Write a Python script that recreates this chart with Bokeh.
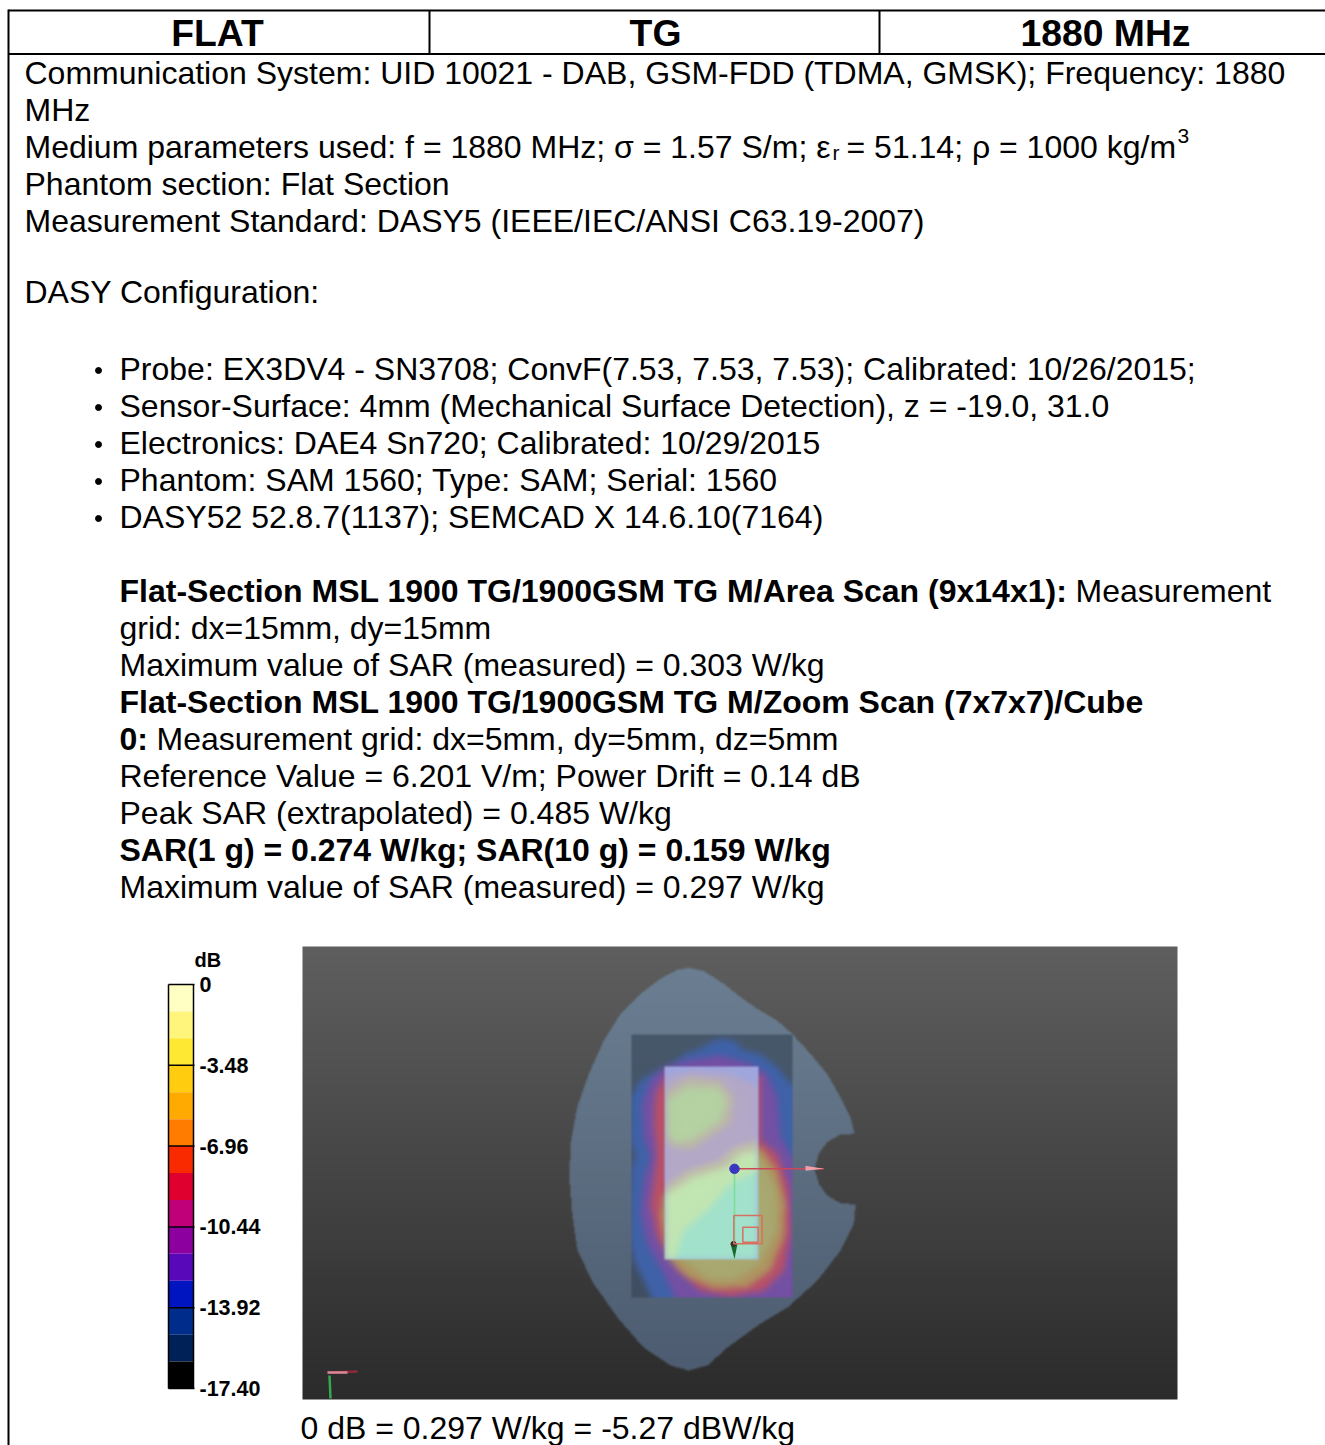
import numpy as np
from bokeh.plotting import figure
from bokeh.models import Range1d
from bokeh.core.properties import value
from bokeh.embed import file_html
from bokeh.resources import INLINE

W, H = 1325, 1445
BODY = 32
FONT = "Liberation Sans"

# ---- colour scale -------------------------------------------------
db_ticks = [0, -3.48, -6.96, -10.44, -13.92, -17.40]
db_labels = ["0", "-3.48", "-6.96", "-10.44", "-13.92", "-17.40"]
db_colors = ["#FFFFC4", "#FFF47C", "#FFE833", "#FFCC10", "#FFAA00", "#FF7C00", "#FA2A00", "#E00030",
             "#C00078", "#8C00A0", "#5808B8", "#0014C0", "#002C8C", "#002058", "#000000"]

# ---- document text: (x, centre y, text, bold) -----------------
header = [("FLAT", 217), ("TG", 655), ("1880 MHz", 1105)]
lines = [
    (24, 72, "Communication System: UID 10021 - DAB, GSM-FDD (TDMA, GMSK); Frequency: 1880", False),
    (24, 109, "MHz", False),
    (24, 146, "Medium parameters used: f = 1880 MHz; σ = 1.57 S/m; ε", False),
    (24, 183, "Phantom section: Flat Section", False),
    (24, 220, "Measurement Standard: DASY5 (IEEE/IEC/ANSI C63.19-2007)", False),
    (24, 291, "DASY Configuration:", False),
    (119, 368, "Probe: EX3DV4 - SN3708; ConvF(7.53, 7.53, 7.53); Calibrated: 10/26/2015;", False),
    (119, 405, "Sensor-Surface: 4mm (Mechanical Surface Detection), z = -19.0, 31.0", False),
    (119, 442, "Electronics: DAE4 Sn720; Calibrated: 10/29/2015", False),
    (119, 479, "Phantom: SAM 1560; Type: SAM; Serial: 1560", False),
    (119, 516, "DASY52 52.8.7(1137); SEMCAD X 14.6.10(7164)", False),
    (119, 590, "Flat-Section MSL 1900 TG/1900GSM TG M/Area Scan (9x14x1):", True),
    (119, 627, "grid: dx=15mm, dy=15mm", False),
    (119, 664, "Maximum value of SAR (measured) = 0.303 W/kg", False),
    (119, 701, "Flat-Section MSL 1900 TG/1900GSM TG M/Zoom Scan (7x7x7)/Cube", True),
    (119, 738, "0:", True),
    (119, 775, "Reference Value = 6.201 V/m; Power Drift = 0.14 dB", False),
    (119, 812, "Peak SAR (extrapolated) = 0.485 W/kg", False),
    (119, 849, "SAR(1 g) = 0.274 W/kg; SAR(10 g) = 0.159 W/kg", True),
    (119, 886, "Maximum value of SAR (measured) = 0.297 W/kg", False),
    (300, 1427, "0 dB = 0.297 W/kg = -5.27 dBW/kg", False),
]
extras = [
    (832, 152, "r", 21), (846, 146, "= 51.14; ρ = 1000 kg/m", BODY), (1177, 135, "3", 21),
    (1075, 590, "Measurement", BODY), (156, 738, "Measurement grid: dx=5mm, dy=5mm, dz=5mm", BODY),
]
bullet_y = [370, 407, 444, 481, 518]

# ---- picture outlines, in 3x crop units (origin 560,950) --------------
phantom = [(385, 52), (430, 62), (490, 100), (540, 140), (590, 175), (650, 210), (695, 250), (750, 310), (800, 370),
           (840, 440), (870, 500), (882, 550), (840, 552), (800, 575), (775, 610), (762, 655), (775, 700), (800, 735),
           (840, 758), (885, 762), (880, 820), (840, 900), (771, 990), (681, 1071), (600, 1119), (501, 1191),
           (441, 1245), (384, 1260), (330, 1245), (249, 1191), (171, 1101), (99, 999), (51, 900), (35, 790), (27, 680),
           (30, 580), (50, 470), (85, 370), (130, 270), (180, 190), (240, 130), (300, 85), (350, 58)]
area_box = (213, 252, 695, 1040)

# heat-map outlines, in 3x crop units (origin 620,1030)
bright_box = (132, 108, 415, 688)
heat_blue = [(195, 70), (240, 55), (270, 35), (300, 25), (340, 30), (370, 60), (420, 70), (470, 110), (510, 160),
             (530, 160), (530, 815), (100, 815), (40, 690), (25, 620), (30, 420), (45, 370), (28, 330), (30, 200),
             (60, 150), (100, 125), (150, 100)]
heat_purple = [(200, 90), (300, 75), (390, 100), (440, 130), (470, 200), (480, 320), (515, 380), (530, 380), (530, 815),
               (170, 815), (130, 730), (80, 640), (60, 550), (70, 450), (90, 380), (70, 320), (65, 220), (90, 150),
               (130, 110)]
heat_red = [(135, 135), (105, 190), (100, 280), (110, 370), (100, 450), (90, 520), (110, 620), (170, 720), (240, 780),
            (330, 798), (430, 780), (490, 720), (512, 600), (505, 470), (470, 370), (420, 330), (420, 135)]
heat_orange = [(130, 490), (120, 550), (140, 680), (200, 740), (280, 775), (380, 770), (450, 720), (490, 620),
               (495, 520), (470, 420), (420, 350), (340, 380)]
heat_olive = [(170, 680), (200, 700), (260, 745), (340, 750), (420, 700), (468, 600), (468, 480), (420, 380), (300, 420)]

in_base = "#9fa6de"
in_pink = [(132, 140), (220, 122), (330, 130), (415, 170), (415, 330), (340, 350), (300, 390), (200, 420), (132, 470)]
in_tan = [(132, 185), (200, 140), (300, 150), (340, 200), (330, 280), (270, 320), (210, 360), (150, 345), (132, 330)]
in_green = [(140, 210), (200, 170), (290, 170), (320, 210), (300, 270), (230, 320), (170, 340), (145, 310)]
low_tan = [(132, 470), (200, 420), (300, 390), (340, 350), (415, 330), (415, 690), (132, 690)]
low_green = [(132, 495), (220, 440), (320, 410), (360, 370), (415, 360), (415, 690), (132, 690)]
low_cyan = [(415, 420), (330, 460), (260, 540), (190, 600), (160, 690), (415, 690)]

img_left, img_top, img_w, img_h = 302, 946, 875, 453

def hexrgb(h):
    return np.array([int(h[i:i + 2], 16) for i in (1, 3, 5)], dtype=float)

def crop(poly):
    return np.array([(560 + a / 3, 950 + b / 3) for a, b in poly])

def hcrop(poly):
    return np.array([(620 + a / 3, 1030 + b / 3) for a, b in poly])

yy, xx = np.mgrid[0:img_h, 0:img_w]
xx = xx + img_left + 0.5
yy = yy + img_top + 0.5

def inside(poly):
    m = np.zeros(xx.shape, bool)
    n = len(poly)
    for i in range(n):
        x1, y1 = poly[i]
        x2, y2 = poly[(i + 1) % n]
        if y1 == y2:
            continue
        c = ((y1 > yy) != (y2 > yy)) & (xx < (x2 - x1) * (yy - y1) / (y2 - y1) + x1)
        m ^= c
    return m

def box(a):
    return (xx >= a[0][0]) & (xx < a[1][0]) & (yy >= a[0][1]) & (yy < a[1][1])

def blur(a, r):
    out = a.astype(float)
    for ax in (0, 1):
        pad = [(0, 0)] * 3
        pad[ax] = (r + 1, r)
        c = np.cumsum(np.pad(out, pad, mode="edge"), axis=ax)
        hi = np.take(c, range(2 * r + 1, c.shape[ax]), axis=ax)
        lo = np.take(c, range(0, c.shape[ax] - 2 * r - 1), axis=ax)
        out = (hi - lo) / (2 * r + 1)
    return out

def ramp(top, bottom, y0, y1):
    t = np.clip((yy - y0) / (y1 - y0), 0, 1)[..., None]
    return hexrgb(top) * (1 - t) + hexrgb(bottom) * t

rgb = ramp("#5f5f5f", "#2b2b2b", img_top, img_top + img_h)
m = inside(crop(phantom))
rgb[m] = ramp("#6c7f92", "#4d5c70", 965, 1370)[m]

area = box(crop([area_box[:2], area_box[2:]]))
rgb[area] = ramp("#48586b", "#3f4e60", 1034, 1297)[area]

heat = np.zeros(rgb.shape)
alpha = np.zeros(rgb.shape[:2] + (1,))
for poly, col in [(heat_blue, "#3f62a8"), (heat_purple, "#7450a4"), (heat_red, "#b85068"), (heat_orange, "#ae9460"),
                  (heat_olive, "#a8a870")]:
    k = inside(hcrop(poly))
    heat[k] = hexrgb(col)
    alpha[k] = 1
heat = blur(blur(heat * alpha, 4), 2)
alpha = blur(blur(alpha, 4), 2)
sel = area & (alpha[..., 0] > 0.01)
rgb[sel] = (rgb * (1 - alpha) + heat)[sel]

inner = np.full(rgb.shape, 0.0) + hexrgb(in_base)
for poly, col in [(in_pink, "#b4a8c8"), (in_tan, "#bcb8a8"), (in_green, "#b4d2a2"),
                  (low_tan, "#c0c0a8"), (low_green, "#c2e6b2"), (low_cyan, "#a2e2cc")]:
    inner[inside(hcrop(poly))] = hexrgb(col)
inner = blur(blur(inner, 4), 3)
b = box(hcrop([bright_box[:2], bright_box[2:]]))
rgb[b] = inner[b]

rgb = blur(rgb, 1)
rgba = np.dstack([np.clip(rgb, 0, 255).astype(np.uint8), np.full(rgb.shape[:2], 255, np.uint8)])
picture = rgba.view(np.uint32).reshape(rgb.shape[:2])

# ---- figure ------------------------------------------------------------
p = figure(width=W, height=H, x_range=Range1d(0, W), y_range=Range1d(H, 0), output_backend="svg",
           toolbar_location=None, min_border=0, outline_line_color=None, background_fill_color="white")
p.xaxis.visible = False
p.yaxis.visible = False
p.grid.visible = False

# table rules
p.segment(x0=[8, 8, 8, 429, 879], y0=[10, 53.5, 9, 10, 10], x1=[W, W, 8, 429, 879], y1=[10, 53.5, H, 53, 53],
          line_color="black", line_width=2)

def txt(x, y, s, size, bold=False, align="left", font=FONT, **kw):
    p.text(x=[x], y=[y], text=[s], text_font=value(font), text_font_size=f"{size}px",
           text_font_style="bold" if bold else "normal", text_align=align, text_baseline="middle",
           text_color="black", **kw)

for s, x in header:
    txt(x, 32, s, 37.3, True, "center")
for x, y, s, bold in lines:
    txt(x, y, s, BODY, bold)
for x, y, s, size in extras:
    txt(x, y, s, size)
p.scatter(x=[98] * len(bullet_y), y=bullet_y, size=6, color="black")

# colour scale on its own dB range
k = 17.4 / 404
p.extra_y_ranges["db"] = Range1d(start=-(H - 984) * k, end=984 * k)
step = 17.4 / len(db_colors)
tops = [-i * step for i in range(len(db_colors))]
bots = [-(i + 1) * step for i in range(len(db_colors))]
p.quad(left=168, right=193, top=tops, bottom=bots, fill_color=db_colors, line_color=None, y_range_name="db")
p.segment(x0=[168] * 6, x1=[194, 194, 194, 194, 194, 194], y0=db_ticks, y1=db_ticks, line_color="black",
          line_width=1.5, y_range_name="db")
p.segment(x0=[168, 193], x1=[168, 193], y0=[0, 0], y1=[-17.4, -17.4], line_color="black", line_width=1.5,
          y_range_name="db")
p.text(x=[199, 199, 199, 199, 199, 199], y=db_ticks, text=db_labels, text_font=value(FONT), text_font_size="21.5px",
       text_font_style="bold", text_baseline="middle", text_color="black", y_range_name="db")
txt(194, 959, "dB", 20, True)

# picture
p.image_rgba(image=[picture], x=img_left, y=img_top, dw=img_w, dh=img_h)

# overlays in the picture (3x crop units, origin 620,1030)
c = hcrop([(342, 415), (555, 415), (610, 415), (342, 685), (340, 555), (425, 640), (367, 590), (413, 635)])
p.segment(x0=[c[0][0]], y0=[c[0][1]], x1=[c[2][0]], y1=[c[2][1]], line_color="#cc4858", line_width=1.5)
p.segment(x0=[c[0][0]], y0=[c[0][1]], x1=[c[3][0]], y1=[c[3][1]], line_color="#70e088", line_width=1.5, line_alpha=0.8)
p.patch(x=[c[1][0], c[2][0], c[1][0]], y=[c[1][1] - 3, c[1][1], c[1][1] + 2], fill_color="#f0a0a8", line_color=None)
p.patch(x=[c[3][0] - 4, c[3][0] + 3, c[3][0]], y=[c[3][1] - 15, c[3][1] - 15, c[3][1]], fill_color="#186830",
        line_color=None)
p.scatter(x=[c[3][0] - 1], y=[c[3][1] - 15], size=5, color="#3a3028")
p.scatter(x=[c[0][0]], y=[c[0][1]], size=9.5, color="#3a38c0")
for a, b in ((c[4], c[5]), (c[6], c[7])):
    p.quad(left=a[0], right=b[0], top=a[1], bottom=b[1], fill_color=None, line_color="#d87060", line_width=1.5)

# axis triad
p.segment(x0=[327, 329], y0=[1372, 1375], x1=[357, 330], y1=[1371, 1398], line_color=["#902838", "#38a850"],
          line_width=2.5)
p.segment(x0=[327], y0=[1372], x1=[347], y1=[1372], line_color="#d88898", line_width=2.5)

html = file_html(p, INLINE)
html = html.replace("<head>", "<head><style>html,body{margin:0;padding:0;overflow:hidden}</style>", 1)
open("out.html", "w").write(html)
